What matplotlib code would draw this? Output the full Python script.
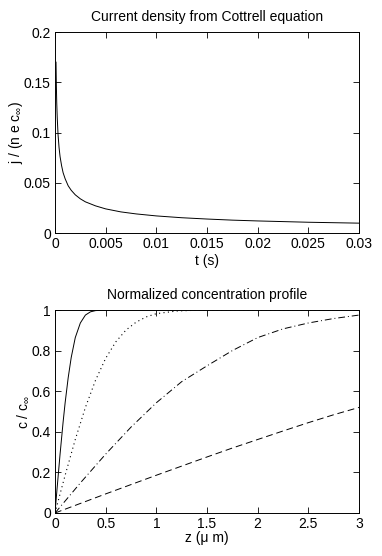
import numpy as np
import matplotlib.pyplot as plt

plt.rcParams['font.family'] = ['Liberation Sans', 'DejaVu Sans']
plt.rcParams['mathtext.fontset'] = 'custom'
plt.rcParams['mathtext.rm'] = 'Liberation Sans'

# Cottrell current density
t_s = [0.0001, 0.00013, 0.00017, 0.00022, 0.0003, 0.0004, 0.0005, 0.00065,
       0.0008, 0.001, 0.0013, 0.0016, 0.002, 0.0025, 0.003, 0.004, 0.005,
       0.0065, 0.008, 0.01, 0.0125, 0.015, 0.0175, 0.02, 0.025, 0.03]
j_norm = [0.170, 0.149, 0.130, 0.115, 0.098, 0.085, 0.076, 0.067,
          0.060, 0.054, 0.047, 0.0425, 0.038, 0.034, 0.031, 0.027, 0.024,
          0.021, 0.019, 0.017, 0.0152, 0.0139, 0.0128, 0.012, 0.0107, 0.0098]

# concentration profiles
z1 = [0, 0.02, 0.05, 0.08, 0.1, 0.13, 0.16, 0.2, 0.25, 0.3, 0.35, 0.4, 0.5, 3.0]
c1 = [0, 0.118, 0.290, 0.448, 0.543, 0.666, 0.766, 0.864, 0.936, 0.975, 0.991, 0.997, 1.0, 1.0]

z2 = [0, 0.05, 0.1, 0.2, 0.3, 0.4, 0.5, 0.6, 0.7, 0.8, 0.9, 1.0, 1.2, 1.4, 1.6, 3.0]
c2 = [0, 0.094, 0.186, 0.362, 0.520, 0.654, 0.762, 0.843, 0.901, 0.940, 0.966,
      0.982, 0.995, 0.999, 1.0, 1.0]

z3 = [0, 0.1, 0.25, 0.5, 0.75, 1.0, 1.25, 1.5, 1.75, 2.0, 2.25, 2.5, 2.75, 3.0]
c3 = [0, 0.059, 0.148, 0.290, 0.423, 0.543, 0.647, 0.725, 0.800, 0.864, 0.907,
      0.936, 0.958, 0.975]

z4 = [0, 0.25, 0.5, 0.75, 1.0, 1.25, 1.5, 1.75, 2.0, 2.25, 2.5, 2.75, 3.0]
c4 = [0, 0.047, 0.094, 0.140, 0.186, 0.231, 0.276, 0.320, 0.362, 0.404, 0.445,
      0.484, 0.520]

W, H = 382, 556
fig = plt.figure(figsize=(W / 100, H / 100), dpi=100)

def box(ax):
    ax.tick_params(direction='in', top=True, right=True, length=4, width=0.6,
                   labelsize=10, pad=3)
    for s in ax.spines.values():
        s.set_linewidth(0.7)

ax1 = fig.add_axes([55 / W, 1 - 233 / H, 304 / W, 201 / H])
ax1.plot(t_s, j_norm, color='black', lw=0.7)
ax1.set_xlim(0, 0.03)
ax1.set_ylim(0, 0.2)
ax1.set_xticks([0, 0.005, 0.01, 0.015, 0.02, 0.025, 0.03])
ax1.set_xticklabels(['0', '0.005', '0.01', '0.015', '0.02', '0.025', '0.03'])
ax1.set_yticks([0, 0.05, 0.1, 0.15, 0.2])
ax1.set_yticklabels(['0', '0.05', '0.1', '0.15', '0.2'])
ax1.set_title('Current density from Cottrell equation', fontsize=10, pad=8)
ax1.set_xlabel('t (s)', fontsize=10)
ax1.set_ylabel(r'j / (n e c$_\infty$)', fontsize=10)
ax1.xaxis.set_label_coords(0.5, -0.105)
ax1.yaxis.set_label_coords(-0.10, 0.5)
box(ax1)

ax2 = fig.add_axes([55 / W, 1 - 513 / H, 304 / W, 203 / H])
ax2.plot(z1, c1, color='black', lw=0.7, ls='-')
ax2.plot(z2, c2, color='black', lw=0.8, ls=(0, (1, 3)))
ax2.plot(z3, c3, color='black', lw=0.7, ls=(0, (7, 3, 1, 3)))
ax2.plot(z4, c4, color='black', lw=0.7, ls=(0, (7, 4)))
ax2.set_xlim(0, 3)
ax2.set_ylim(0, 1)
ax2.set_xticks([0, 0.5, 1, 1.5, 2, 2.5, 3])
ax2.set_xticklabels(['0', '0.5', '1', '1.5', '2', '2.5', '3'])
ax2.set_yticks([0, 0.2, 0.4, 0.6, 0.8, 1])
ax2.set_yticklabels(['0', '0.2', '0.4', '0.6', '0.8', '1'])
ax2.set_title('Normalized concentration profile', fontsize=10, pad=8)
ax2.set_xlabel('z (\u03bc m)', fontsize=10)
ax2.set_ylabel(r'c / c$_\infty$', fontsize=10)
ax2.xaxis.set_label_coords(0.5, -0.09)
ax2.yaxis.set_label_coords(-0.08, 0.5)
box(ax2)

fig.savefig('out.png', dpi=100)
